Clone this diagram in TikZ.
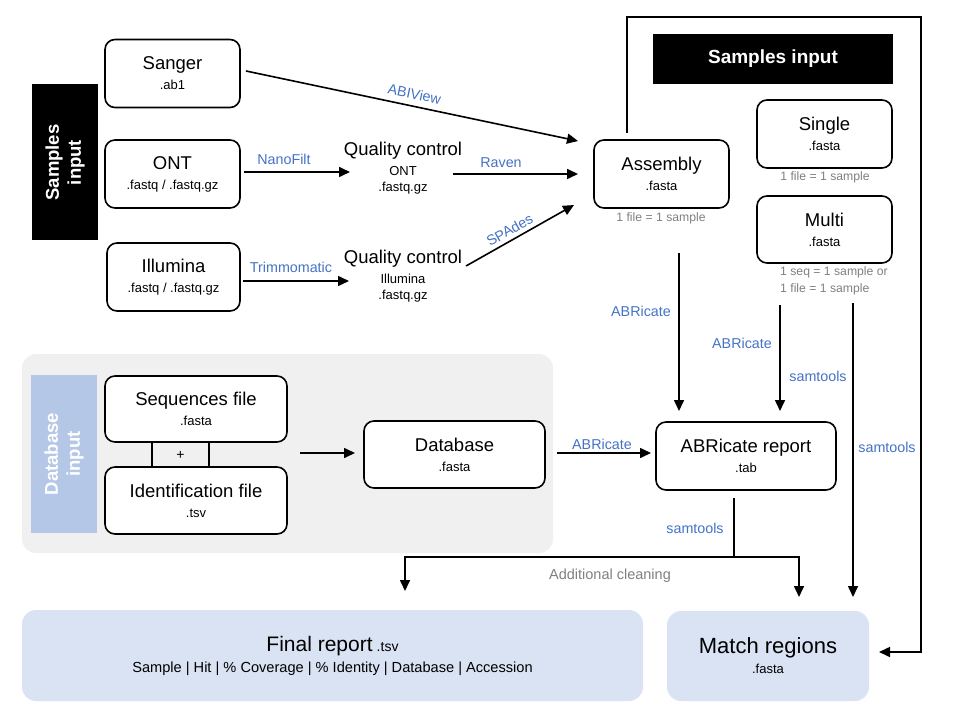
\documentclass[tikz,border=0pt]{standalone}
\usepackage{fontspec}
\setmainfont{Liberation Sans}
\usetikzlibrary{arrows.meta,calc}
\definecolor{lblue}{HTML}{4472C4}
\definecolor{lgray}{HTML}{808080}
\definecolor{bgray}{HTML}{F0F0F0}
\definecolor{pblue}{HTML}{DAE3F3}
\definecolor{mblue}{HTML}{B4C7E7}
\newcommand\mainT[1]{{\fontsize{18.5}{20}\selectfont #1}}
\begin{document}
\begin{tikzpicture}[x=1pt,y=-1pt,
  box/.style={draw, line width=1.6pt, rounded corners=10pt, fill=white, align=center, inner sep=0pt,
    font=\fontsize{13}{20}\selectfont},
  arr/.style={line width=1.6pt, -{Triangle[length=11pt,width=10pt]}},
  ln/.style={line width=1.6pt},
  tool/.style={text=lblue, font=\fontsize{14.3}{16}\selectfont, inner sep=1pt},
  note/.style={text=lgray, font=\fontsize{12.2}{17}\selectfont, inner sep=1pt},
  blk/.style={fill=black, text=white, font=\bfseries\fontsize{18.5}{22}\selectfont, align=center, inner sep=0pt},
  plain/.style={align=center, inner sep=0pt, font=\fontsize{13}{20}\selectfont}]
\useasboundingbox (0,0) rectangle (955,727);

% backgrounds
\fill[bgray, rounded corners=14pt] (22,354) rectangle (553,553);
\node[fill=mblue, text=white, font=\bfseries\fontsize{18.5}{22}\selectfont, align=center,
  minimum width=158pt, minimum height=66pt, rotate=90, inner sep=0pt] (dbin) at (64,454) {Database\\input};
\node[blk, minimum width=156pt, minimum height=66pt, rotate=90] (sin) at (65,162.5) {Samples\\input};
\node[blk, minimum width=240pt, minimum height=50pt, font=\bfseries\fontsize{19}{22}\selectfont] (sin2) at (773,59) {Samples input};

% sample boxes
\node[box, minimum width=135pt, minimum height=68pt] (sanger) at (172.5,73.5) {\mainT{Sanger}\\.ab1};
\node[box, minimum width=135pt, minimum height=68pt] (ont) at (172.5,174) {\mainT{ONT}\\.fastq / .fastq.gz};
\node[box, minimum width=133pt, minimum height=68pt] (illu) at (173.5,277) {\mainT{Illumina}\\.fastq / .fastq.gz};

\node[plain] (qcont) at (403,168) {\mainT{Quality control}\\ONT\\[-4pt].fastq.gz};
\node[plain] (qcill) at (403,276) {\mainT{Quality control}\\Illumina\\[-4pt].fastq.gz};

\node[box, minimum width=135pt, minimum height=68pt] (asm) at (661.5,174) {\mainT{Assembly}\\.fasta};
\node[note] (asmn) at (661,218) {1 file = 1 sample};
\node[box, minimum width=135pt, minimum height=68pt] (single) at (824.5,134) {\mainT{Single}\\.fasta};
\node[note] (singn) at (825,177) {1 file = 1 sample};
\node[box, minimum width=135pt, minimum height=67pt] (multi) at (824.5,229.5) {\mainT{Multi}\\.fasta};
\node[note, align=left, anchor=north west] (multn) at (779,265) {1 seq = 1 sample or\\1 file = 1 sample};

% database boxes
\node[box, minimum width=182pt, minimum height=66pt] (seqf) at (196,409) {\mainT{Sequences file}\\.fasta};
\node[box, minimum width=182pt, minimum height=67pt] (idf) at (196,500.5) {\mainT{Identification file}\\.tsv};
\node[box, minimum width=181pt, minimum height=67pt] (db) at (454.5,454.5) {\mainT{Database}\\.fasta};
\node[box, minimum width=180pt, minimum height=68pt] (rep) at (746,456) {\mainT{ABRicate report}\\.tab};

% outputs
\node[fill=pblue, rounded corners=14pt, minimum width=621pt, minimum height=91pt, align=center, inner sep=0pt,
  font=\fontsize{14.6}{21}\selectfont] (final) at (332.5,655.5)
  {{\fontsize{21}{21}\selectfont Final report} {\fontsize{14}{16}\selectfont .tsv}\\Sample | Hit | \% Coverage | \% Identity | Database | Accession};
\node[fill=pblue, rounded corners=14pt, minimum width=202pt, minimum height=90pt, align=center, inner sep=0pt,
  font=\fontsize{13}{20}\selectfont] (match) at (768,656)
  {{\fontsize{22}{22}\selectfont Match regions}\\.fasta};

% plus connector
\draw[ln] (seqf.south -| 152,0) -- (idf.north -| 152,0);
\draw[ln] (seqf.south -| 209,0) -- (idf.north -| 209,0);
\node[plain, font=\fontsize{14}{16}\selectfont] (plus) at (180.5,455) {+};

% coordinates
\coordinate (sgA) at (246,71);   \coordinate (sgB) at (578,141);
\coordinate (rvA) at (453,174);  \coordinate (rvB) at (578,174);
\coordinate (spA) at (466,266);  \coordinate (spB) at (574,205);
\coordinate (nfA) at (244,172);  \coordinate (nfB) at (350,172);
\coordinate (tmA) at (243,281);  \coordinate (tmB) at (349,281);
\coordinate (dbA) at (300,453);  \coordinate (dbB) at (355,453);
\coordinate (abA) at (557,453);  \coordinate (abB) at (651,453);
\coordinate (asA) at (679,253);  \coordinate (asB) at (679,411);
\coordinate (muA) at (780,305);  \coordinate (muB) at (780,411);
\coordinate (mmA) at (853,303);  \coordinate (mmB) at (853,597);
\coordinate (fr1) at (627,133);  \coordinate (frE) at (879,652);
\coordinate (rs) at (734,498);   \coordinate (jn) at (734,557);
\coordinate (fTip) at (405,591); \coordinate (mTip) at (799,597);

\draw[arr] (sgA) -- node[tool, sloped, above=5pt] {ABIView} (sgB);
\draw[arr] (nfA) -- (nfB);
\node[tool] at (284,159) {NanoFilt};
\draw[arr] (tmA) -- (tmB);
\node[tool] at (291,267) {Trimmomatic};
\draw[arr] (rvA) -- (rvB);
\node[tool] at (501,163) {Raven};
\draw[arr] (spA) -- node[tool, sloped, above=3pt, pos=0.45] {SPAdes} (spB);
\draw[arr] (dbA) -- (dbB);
\draw[arr] (abA) -- (abB);
\node[tool] at (602,444) {ABRicate};
\draw[arr] (asA) -- (asB);
\node[tool] at (641,311) {ABRicate};
\draw[arr] (muA) -- (muB);
\node[tool] at (742,343) {ABRicate};
\node[tool] at (818,376) {samtools};
\draw[arr] (mmA) -- (mmB);
\node[tool] at (887,447) {samtools};
\draw[arr] (fr1) -- (627,17) -- (921,17) -- (921,652) -- (frE);
\draw[ln] (rs) -- (jn);
\node[tool] at (695,528) {samtools};
\draw[arr] (jn) -| (fTip);
\draw[arr] (jn) -| (mTip);
\node[text=lgray, font=\fontsize{14.5}{16}\selectfont, inner sep=1pt] at (610,576) {Additional cleaning};
\end{tikzpicture}
\end{document}
